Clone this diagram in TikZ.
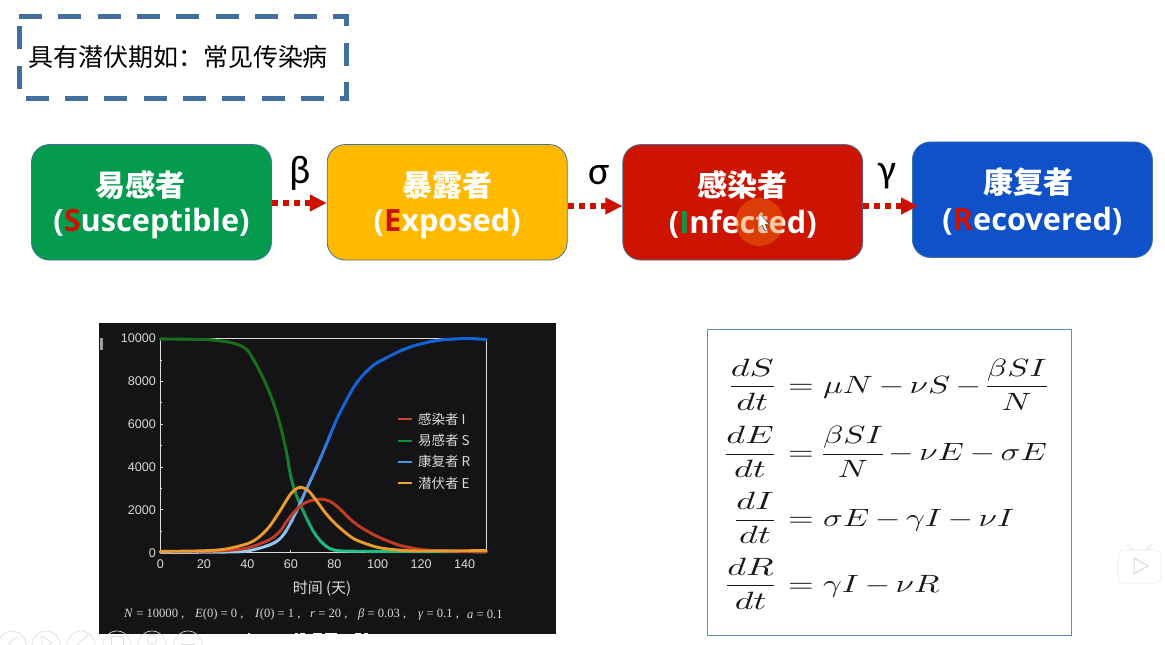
\documentclass[tikz,border=0pt]{standalone}
\usepackage{fontspec}
\usepackage{graphicx}
\usetikzlibrary{arrows.meta}
\newfontfamily\cjkreg{Noto Sans CJK SC}
\newfontfamily\latreg{Open Sans}
\newfontfamily\grk{Carlito}
\newfontfamily\axisf{Liberation Sans}
\newfontfamily\capf{Liberation Serif}
\definecolor{bdr}{HTML}{41719C}
\definecolor{dashc}{HTML}{41709E}
\definecolor{cgreen}{HTML}{059B4E}
\definecolor{cyellow}{HTML}{FFBA00}
\definecolor{cred}{HTML}{CC1400}
\definecolor{cblue}{HTML}{0F51C8}
\definecolor{arr}{HTML}{CC1100}
\definecolor{ink}{HTML}{DADADA}
\definecolor{imgbg}{HTML}{141416}
\definecolor{ctlg}{HTML}{DEDEDE}
\definecolor{eqframe}{RGB}{85,145,200}
\definecolor{hilite}{RGB}{245,120,20}
\definecolor{sdark}{RGB}{22,110,30}
\definecolor{slight}{RGB}{30,190,135}
\definecolor{rdark}{RGB}{20,100,215}
\definecolor{rlight}{RGB}{155,205,242}
\newcommand{\eqsc}[1]{\scalebox{3.3}[2.5]{$\medmuskip=3mu\nulldelimiterspace=0pt\displaystyle #1$}}
\newcommand{\eql}[1]{\scalebox{3.6}[2.5]{$\nulldelimiterspace=0pt\displaystyle #1$}}
\tikzset{
  box/.style={draw=bdr,line width=.8pt,rounded corners=18pt,minimum width=240pt,minimum height=115.5pt,inner sep=0pt},
  boxcjk/.style={font=\cjkreg\bfseries\fontsize{30}{36}\selectfont,text=white,inner sep=0pt},
  boxlat/.style={font=\latreg\bfseries\fontsize{30.7}{36}\selectfont,text=white,inner sep=0pt},
  flow/.style={draw=arr,line width=5.5pt,dash pattern=on 6pt off 5pt,-{Triangle[length=17pt,width=16pt,fill=arr]}},
  greek/.style={font=\grk\fontsize{40}{44}\selectfont,text=black,inner sep=0pt},
  ticklab/.style={font=\axisf\fontsize{12.6}{14}\selectfont,text=ink,inner sep=0pt},
  leglab/.style={font=\cjkreg\fontsize{13.5}{15}\selectfont,text=ink,inner sep=0pt,anchor=west},
  caplab/.style={font=\capf\fontsize{12.6}{14}\selectfont,text=ink,inner sep=0pt,anchor=west},
  eqn/.style={inner sep=0pt,text=black!90},
  curve/.style={line width=2.9pt,line cap=round,line join=round},
  ctl/.style={draw=ctlg,line width=.7pt},
}
\def\Spath{plot[smooth] coordinates {(0,9980)(20,9950)(30,9850)(36,9700)(40,9455)(44,8800)(48,8000)(52,7000)(55,6000)(58,4700)(60,3545)(62.5,2700)(65.5,1990)(69,1250)(72,750)(76,320)(80,130)(90,70)(150,40)}}
\def\Rpath{plot[smooth] coordinates {(0,10)(30,30)(40,80)(50,350)(55,650)(58,1050)(62,1800)(67,2920)(71,3800)(75,4730)(81,6190)(85,7000)(88.5,7645)(92,8150)(98,8750)(105,9150)(113,9530)(120,9750)(128.6,9920)(140,10000)(150,9960)}}
\begin{document}
\begin{tikzpicture}[x=1pt,y=-1pt]
\useasboundingbox (0,0) rectangle (1165,645);
\fill[white] (0,0) rectangle (1165,645);
% dashed title box
\node[minimum width=327.5pt,minimum height=81pt,inner sep=0pt,font=\cjkreg\fontsize{25}{30}\selectfont] (title) at (183,57.5) {\hspace*{-10pt}具有潜伏期如\char"FF1A 常见传染病};
\draw[dashc,line width=5pt,dash pattern=on 23pt off 16.3pt] (title.north west) -- (title.north east) -- (title.south east) -- (title.south west) -- cycle;
% stage boxes
\node[box,fill=cgreen] (s) at (151.5,202.3) {};
\node[box,fill=cyellow] (e) at (447.2,202.3) {};
\node[box,fill=cred] (i) at (742.8,202.3) {};
\node[box,fill=cblue] (r) at (1032.4,199.7) {};
\node[boxcjk] (s1) at (140.6,185) {易感者};
\node[boxlat] (s2) at (151.5,224) {(\textcolor{arr}{S}usceptible)};
\node[boxcjk] (e1) at (447.2,185) {暴露者};
\node[boxlat] (e2) at (447.2,224) {(\textcolor{arr}{E}xposed)};
\node[boxcjk] (i1) at (742.8,185) {感染者};
\node[boxlat] (i2) at (742.8,224) {(\textcolor{cgreen}{I}nfected)};
\node[boxcjk] (r1x) at (1028.5,182) {康复者};
\node[boxlat] (r2x) at (1032.4,221) {(\textcolor{arr}{R}ecovered)};
% pointer highlight
\fill[hilite,opacity=.4] (759.5,222) circle (24);
\fill[white,draw=black!70,line width=.4pt] (759,213) -- (759,228) -- (762.5,225) -- (765,231) -- (767.5,230) -- (765,224) -- (769,224) -- cycle;
% connectors
\coordinate (t3) at ([xshift=6pt]r.west |- 0,206);
\draw[flow] (s.east |- 0,203) -- (e.west |- 0,203);
\draw[flow] (e.east |- 0,206) -- (i.west |- 0,206);
\draw[flow] (i.east |- 0,206) -- (t3);
\node[greek] (lb) at (300,173) {β};
\node[greek] (ls) at (599,175) {σ};
\node[greek] (lg) at (887,176) {γ};
% chart image
\fill[imgbg] (99,323) rectangle (556,634);
\foreach \xa/\xb in {248/250,295/298,300/305,313/322,325/337,355/361,364/368} \fill[white] (\xa,633.2) rectangle (\xb,634);
\fill[gray!75] (99.5,338) rectangle (102.5,350);
\begin{scope}[shift={(160.5,552.7)},x=2.172pt,y=0.02142pt]
  \draw[ink,line width=1.3pt] (0,0) rectangle (150,10000);
  \foreach \v in {1000,3000,5000,7000,9000} \draw[ink,line width=.7pt] (0,\v) -- (.7,\v);
  \foreach \v in {2000,4000,6000,8000} \draw[ink,line width=.9pt] (0,\v) -- (1.3,\v);
  \foreach \t in {0,20,...,140} \draw[ink,line width=.8pt] (\t,0) -- (\t,120);
  % susceptible, coloured by height
  \foreach \k in {0,1,...,21}{
    \pgfmathsetmacro{\lo}{\k*500-100}
    \pgfmathsetmacro{\hi}{\k*500+520}
    \pgfmathsetmacro{\pp}{min(100,\k*500/5000*100)}
    \colorlet{bandc}{sdark!\pp!slight}
    \begin{scope}
      \clip (-5,\lo) rectangle (155,\hi);
      \draw[curve,bandc] \Spath;
    \end{scope}
  }
  % recovered, coloured by height
  \foreach \k in {0,1,...,21}{
    \pgfmathsetmacro{\lo}{\k*500-100}
    \pgfmathsetmacro{\hi}{\k*500+520}
    \pgfmathsetmacro{\pp}{min(100,\k*500/6000*100)}
    \colorlet{bandc}{rdark!\pp!rlight}
    \begin{scope}
      \clip (-5,\lo) rectangle (155,\hi);
      \draw[curve,bandc] \Rpath;
    \end{scope}
  }
  % infected
  \draw[curve,color={rgb,255:red,195;green,60;blue,40}] plot[smooth] coordinates {(0,50)(20,70)(30,100)(40,220)(50,600)(55,1000)(58,1450)(62,1950)(66,2300)(70,2450)(74,2500)(78,2400)(82,2100)(87,1600)(92,1200)(100,750)(110,350)(120,150)(130,80)(150,50)};
  % exposed
  \draw[curve,color={rgb,255:red,235;green,155;blue,45}] plot[smooth] coordinates {(0,60)(20,90)(30,170)(40,420)(45,700)(50,1200)(55,1950)(60,2750)(64,3050)(68,2900)(72,2400)(76,1850)(80,1400)(85,950)(90,600)(100,250)(110,120)(120,80)(150,100)};
  % tick labels
  \foreach \t in {0,20,...,140} \node[ticklab] (xt\t) at (\t,-530) {\t};
  \foreach \v in {0,2000,4000,6000,8000,10000} \node[ticklab,anchor=east] (yt\v) at (-2,\v) {\v};
\end{scope}
\node[font=\cjkreg\fontsize{15}{17}\selectfont,text=ink,inner sep=0pt] (xlab) at (322,589) {时间 (天)};
% legend
\definecolor{lga}{RGB}{200,70,50}\definecolor{lgb}{RGB}{15,140,60}\definecolor{lgc}{RGB}{70,150,230}\definecolor{lgd}{RGB}{240,165,50}
\foreach \yy/\cc/\tt in {419/lga/感染者 I,440.7/lgb/易感者 S,461.7/lgc/康复者 R,483.3/lgd/潜伏者 E}{
  \draw[line width=2pt,\cc] (398,\yy) -- (412,\yy);
  \node[leglab] at (418,\yy) {\tt};
}
% caption
\node[caplab] (c1) at (124,614.7) {\textit{N} = 10000 ,};
\node[caplab] (c2) at (195,614.7) {\textit{E}(0) = 0 ,};
\node[caplab] (c3) at (255,614.7) {\textit{I}(0) = 1 ,};
\node[caplab] (c4) at (310,614.7) {\textit{r} = 20 ,};
\node[caplab] (c5) at (358,614.7) {\textit{β} = 0.03 ,};
\node[caplab] (c6) at (418,614.7) {\textit{γ} = 0.1 ,};
\node[caplab] (c7) at (467,614.7) {\textit{a} = 0.1};
% equations
\draw[draw=eqframe,line width=1pt] (707.3,329.7) rectangle (1071.7,635);
\node[eqn,anchor=base east] (l1) at (774,393) {\eql{\frac{dS}{dt}}};
\node[eqn,anchor=base west] (r1) at (788,393) {\eqsc{= \mu N - \nu S - \frac{\beta S I}{N}}};
\node[eqn,anchor=base east] (l2) at (774,460.3) {\eql{\frac{dE}{dt}}};
\node[eqn,anchor=base west] (r2) at (788,460.3) {\eqsc{= \frac{\beta S I}{N} - \nu E - \sigma E}};
\node[eqn,anchor=base east] (l3) at (774,526.3) {\eql{\frac{dI}{dt}}};
\node[eqn,anchor=base west] (r3) at (788,526.3) {\eqsc{= \sigma E - \gamma I - \nu I}};
\node[eqn,anchor=base east] (l4) at (774,592) {\eql{\frac{dR}{dt}}};
\node[eqn,anchor=base west] (r4) at (788,592) {\eqsc{= \gamma I - \nu R}};
% player controls
\begin{scope}
\clip (0,0) rectangle (1165,645);
\foreach \cx in {12,46,81,117,152,188} \draw[ctl] (\cx,645) circle (14);
\draw[ctl] (17,637) -- (9,643) -- (17,650);
\draw[ctl] (42,636) -- (52,643) -- (42,650) -- cycle;
\draw[ctl] (75,647) -- (88,635);
\draw[ctl] (111,636) rectangle (123,645);
\draw[ctl] (152,640) circle (5);
\draw[ctl] (181,644) -- (195,644);
\end{scope}
% video badge
\draw[draw=black!6,fill=white,line width=1pt,rounded corners=6pt] (1118,550) rectangle (1161,583);
\draw[black!6,line width=2pt,line cap=round] (1127,544) -- (1133,550);
\draw[black!6,line width=2pt,line cap=round] (1152,544) -- (1146,550);
\draw[black!15,line width=1pt,line join=round] (1134,558) -- (1148,566) -- (1134,574) -- cycle;
\end{tikzpicture}
\end{document}
